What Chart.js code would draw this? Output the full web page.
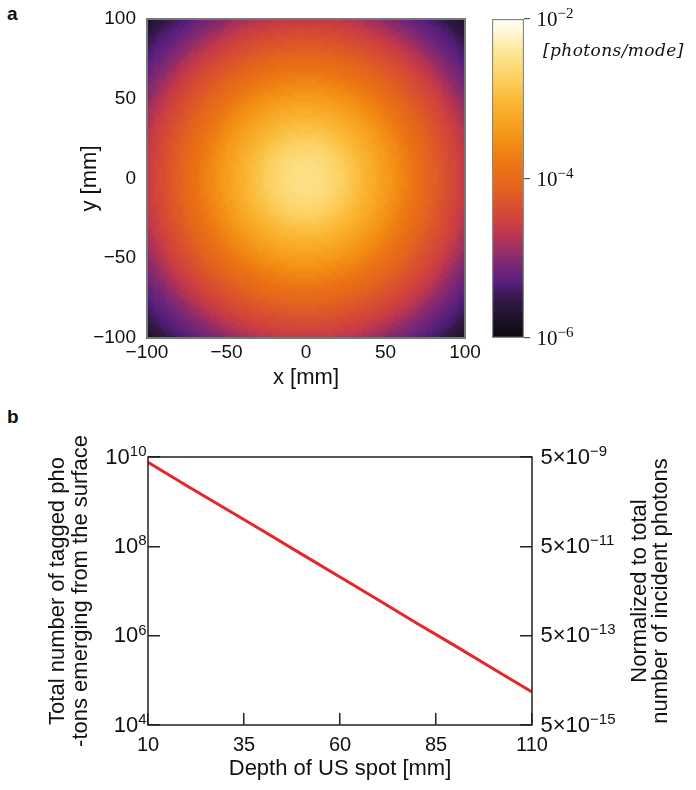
<!DOCTYPE html>
<html>
<head>
<meta charset="utf-8">
<script src="https://cdn.jsdelivr.net/npm/chart.js@4.4.1/dist/chart.umd.min.js"></script>
<style>
  body { margin: 0; background: #fff; width: 696px; height: 790px; position: relative; overflow: hidden;
         font-family: "Liberation Sans", Arial, sans-serif; color: #111; }
  .box { position: absolute; }
  .tag { position: absolute; font-weight: bold; font-size: 19px; }
  #unit { position: absolute; left: 543px; top: 40px; font-family: "DejaVu Serif", serif;
          font-style: italic; font-size: 17px; letter-spacing: 0.4px; white-space: nowrap; }
</style>
</head>
<body>
<div class="tag" style="left:7px;top:3px">a</div>
<div class="tag" style="left:7px;top:406px">b</div>
<div class="box" style="left:0;top:0;width:490px;height:400px"><canvas id="heat"></canvas></div>
<div class="box" style="left:480px;top:0;width:216px;height:400px"><canvas id="cbar"></canvas></div>
<div id="unit">[photons/mode]</div>
<div class="box" style="left:0;top:400px;width:696px;height:390px"><canvas id="line"></canvas></div>
<script>
// ---------- DATA ----------
// panel a: log10(photons/mode) read from the map every 2.5 mm out from the centre
const radiusStepMm = 2.5;
const profileLog10 = [
  -2.52, -2.52, -2.53, -2.54, -2.56, -2.59, -2.62, -2.66, -2.70, -2.74,
  -2.79, -2.84, -2.90, -2.95, -3.01, -3.07, -3.13, -3.18, -3.24, -3.30,
  -3.36, -3.42, -3.49, -3.55, -3.62, -3.69, -3.76, -3.83, -3.90, -3.96,
  -4.03, -4.09, -4.15, -4.21, -4.27, -4.32, -4.38, -4.44, -4.50, -4.56,
  -4.62, -4.70, -4.78, -4.86, -4.95, -5.01, -5.08, -5.14, -5.20, -5.26,
  -5.33, -5.39, -5.45, -5.52, -5.60, -5.67, -5.75, -5.80, -5.85];
const mapTicks = [-100, -50, 0, 50, 100];
const cbarTicks = [1e-6, 1e-4, 1e-2];

// panel b: tagged photons vs depth
const depthMm = [10, 20, 30, 40, 50, 60, 70, 80, 90, 100, 110];
const taggedPhotons = [7.6e9, 2.3e9, 7.1e8, 2.2e8, 6.7e7, 2.05e7, 6.3e6, 1.9e6, 5.9e5, 1.8e5, 5.5e4];
const depthTicks = [10, 35, 60, 85, 110];
const leftTicks = [1e4, 1e6, 1e8, 1e10];
const rightTicks = [5e-15, 5e-13, 5e-11, 5e-9];

// ---------- STYLE ----------
const sans = '"Liberation Sans", Arial, sans-serif';
const serif = '"Liberation Serif", "DejaVu Serif", serif';
Chart.defaults.font.family = sans;
Chart.defaults.color = '#111';

// colormap stops, t = 0 bottom (1e-6) .. 1 top (1e-2)
const cmap = [
  [0.000, 10, 8, 15], [0.119, 50, 25, 70], [0.172, 85, 30, 125], [0.235, 125, 40, 115],
  [0.298, 170, 50, 90], [0.348, 200, 60, 70], [0.401, 215, 75, 50], [0.473, 228, 100, 30],
  [0.536, 235, 115, 20], [0.611, 242, 140, 20], [0.683, 248, 165, 35], [0.746, 250, 185, 55],
  [0.818, 252, 210, 100], [0.893, 253, 230, 150], [0.966, 255, 248, 220], [1.000, 255, 255, 245]
];
function cmapColor(t) {
  t = Math.max(0, Math.min(1, t));
  for (let i = 1; i < cmap.length; i++) {
    if (t <= cmap[i][0]) {
      const a = cmap[i - 1], b = cmap[i];
      const f = (t - a[0]) / (b[0] - a[0]);
      const c = [1, 2, 3].map(k => Math.round(a[k] + (b[k] - a[k]) * f));
      return `rgb(${c[0]},${c[1]},${c[2]})`;
    }
  }
  return 'rgb(255,255,245)';
}

const minus = v => (v < 0 ? '\u2212' + (-v) : String(v));
const noPad = s => { s.paddingTop = 0; s.paddingBottom = 0; s.paddingLeft = 0; s.paddingRight = 0; };

const frame = (color, width) => ({
  id: 'frame',
  afterDraw(chart) {
    const { ctx, chartArea: a } = chart;
    ctx.save();
    ctx.strokeStyle = color;
    ctx.lineWidth = width;
    ctx.strokeRect(a.left, a.top, a.right - a.left, a.bottom - a.top);
    ctx.restore();
  }
});

// "10" with a raised exponent
function drawPower(ctx, x, y, head, exp, o) {
  ctx.save();
  ctx.fillStyle = '#111';
  ctx.font = `${o.size}px ${o.family}`;
  const wHead = ctx.measureText(head).width;
  ctx.font = `${o.expSize}px ${o.family}`;
  const wExp = ctx.measureText(exp).width;
  const x0 = o.align === 'right' ? x - wHead - wExp : x;
  ctx.textAlign = 'left';
  ctx.textBaseline = 'middle';
  ctx.font = `${o.size}px ${o.family}`;
  ctx.fillText(head, x0, y + (o.dy || 0));
  ctx.textBaseline = 'alphabetic';
  ctx.font = `${o.expSize}px ${o.family}`;
  ctx.fillText(exp, x0 + wHead, y + o.expDy);
  ctx.restore();
}
const expStr = n => (n < 0 ? '\u2212' + (-n) : String(n));

// ---------- PANEL A: MAP ----------
const cellMm = 2;
const cells = [];
for (let i = 0; i < 200 / cellMm; i++) {
  for (let j = 0; j < 200 / cellMm; j++) {
    const x = -100 + (i + 0.5) * cellMm, y = -100 + (j + 0.5) * cellMm;
    const k = Math.min(profileLog10.length - 1, Math.round(Math.hypot(x, y) / radiusStepMm));
    cells.push({ x, y, c: cmapColor((profileLog10[k] + 6) / 4) });
  }
}
function cellRadius(chart) {
  const sx = chart.scales.x, sy = chart.scales.y;
  const w = Math.max(Math.abs(sx.getPixelForValue(cellMm) - sx.getPixelForValue(0)),
                     Math.abs(sy.getPixelForValue(cellMm) - sy.getPixelForValue(0)));
  return (w / 2 + 0.4) * Math.SQRT2;
}
const mapAxis = pad => ({
  type: 'linear', min: -100, max: 100, z: 1,
  afterBuildTicks: s => { s.ticks = mapTicks.map(v => ({ value: v })); },
  grid: { drawOnChartArea: false, tickLength: -10, color: '#333', lineWidth: 1.5 },
  border: { display: false },
  ticks: { padding: pad, color: '#111', font: { size: 19 }, callback: minus, maxRotation: 0, autoSkip: false }
});

new Chart(document.getElementById('heat'), {
  type: 'scatter',
  data: {
    datasets: [{
      data: cells,
      pointStyle: 'rect',
      borderWidth: 0,
      backgroundColor: c => (c.raw ? c.raw.c : '#000'),
      pointRadius: c => cellRadius(c.chart)
    }]
  },
  options: {
    responsive: true, maintainAspectRatio: false, animation: false, events: [],
    layout: { padding: { top: 19, right: 25, left: 0, bottom: 0 } },
    plugins: { legend: { display: false }, tooltip: { enabled: false } },
    scales: {
      x: Object.assign(mapAxis(13), {
        afterFit: s => { s.height = 62; noPad(s); },
        title: { display: true, text: 'x [mm]', color: '#111', font: { size: 22, lineHeight: 1.1 }, padding: { top: 0, bottom: 10 } }
      }),
      y: Object.assign(mapAxis(21), {
        afterFit: s => { s.width = 147; noPad(s); },
        title: { display: true, text: 'y [mm]', color: '#111', font: { size: 22, lineHeight: 1.1 }, padding: { top: 78, bottom: 0 } }
      })
    }
  },
  plugins: [frame('#777', 2)]
});

// ---------- PANEL A: COLORBAR ----------
function cbarGradient(chart) {
  const a = chart.chartArea;
  if (!a) return '#888';
  const g = chart.ctx.createLinearGradient(0, a.bottom, 0, a.top);
  cmap.forEach(s => g.addColorStop(s[0], `rgb(${s[1]},${s[2]},${s[3]})`));
  return g;
}
new Chart(document.getElementById('cbar'), {
  type: 'bar',
  data: {
    labels: [''],
    datasets: [{
      data: [[cbarTicks[0], cbarTicks[cbarTicks.length - 1]]],
      backgroundColor: c => cbarGradient(c.chart),
      borderColor: '#888', borderWidth: 1.5, borderSkipped: false,
      barPercentage: 1, categoryPercentage: 1
    }]
  },
  options: {
    responsive: true, maintainAspectRatio: false, animation: false, events: [],
    layout: { padding: { top: 19, left: 12, right: 0, bottom: 62 } },
    plugins: { legend: { display: false }, tooltip: { enabled: false } },
    scales: {
      x: { display: false },
      y: {
        type: 'logarithmic', position: 'right', min: cbarTicks[0], max: cbarTicks[cbarTicks.length - 1],
        afterBuildTicks: s => { s.ticks = cbarTicks.map(v => ({ value: v })); },
        afterFit: s => { s.width = 172; noPad(s); },
        grid: { drawOnChartArea: false, tickLength: 6, color: '#555', lineWidth: 1.2 },
        border: { display: false },
        ticks: { display: false }
      }
    }
  },
  plugins: [{
    id: 'cbarLabels',
    afterDraw(chart) {
      const s = chart.scales.y;
      cbarTicks.forEach(v => {
        drawPower(chart.ctx, chart.chartArea.right + 12.5, s.getPixelForValue(v), '10',
          expStr(Math.round(Math.log10(v))), { size: 21, expSize: 15, family: serif, dy: 1.5, expDy: -1 });
      });
    }
  }]
});

// ---------- PANEL B: LINE ----------
const inTick = { drawOnChartArea: false, tickLength: -12, color: '#222', lineWidth: 1.5 };
new Chart(document.getElementById('line'), {
  type: 'line',
  data: {
    datasets: [{
      data: depthMm.map((d, i) => ({ x: d, y: taggedPhotons[i] })),
      borderColor: '#e8262a', borderWidth: 3, pointRadius: 0, tension: 0, fill: false, yAxisID: 'y'
    }]
  },
  options: {
    responsive: true, maintainAspectRatio: false, animation: false, events: [],
    layout: { padding: { top: 57, right: 0, left: 0, bottom: 0 } },
    plugins: { legend: { display: false }, tooltip: { enabled: false } },
    scales: {
      x: {
        type: 'linear', min: depthTicks[0], max: depthTicks[depthTicks.length - 1],
        afterBuildTicks: s => { s.ticks = depthTicks.map(v => ({ value: v })); },
        afterFit: s => { s.height = 65; },
        grid: inTick, border: { display: false },
        ticks: { padding: 20, color: '#111', font: { size: 20 }, maxRotation: 0, autoSkip: false },
        title: { display: true, text: 'Depth of US spot [mm]', color: '#111', font: { size: 22, lineHeight: 1.1 }, padding: { top: 0, bottom: 9 } }
      },
      y: {
        type: 'logarithmic', position: 'left', min: leftTicks[0], max: leftTicks[leftTicks.length - 1],
        afterBuildTicks: s => { s.ticks = leftTicks.map(v => ({ value: v })); },
        afterFit: s => { s.width = 148; noPad(s); },
        grid: inTick, border: { display: false },
        ticks: { display: false },
        title: {
          display: true, text: ['Total number of tagged pho', '-tons emerging from the surface'],
          color: '#111', font: { size: 22, lineHeight: 1.06 }, padding: { top: 46, bottom: 0 }
        }
      },
      y2: {
        type: 'logarithmic', position: 'right', min: rightTicks[0], max: rightTicks[rightTicks.length - 1],
        afterBuildTicks: s => { s.ticks = rightTicks.map(v => ({ value: v })); },
        afterFit: s => { s.width = 164; noPad(s); },
        grid: inTick, border: { display: false },
        ticks: { display: false }
      }
    }
  },
  plugins: [frame('#222', 1.5), {
    id: 'powerLabels',
    afterDraw(chart) {
      const ctx = chart.ctx, a = chart.chartArea;
      const sy = chart.scales.y, sy2 = chart.scales.y2;
      leftTicks.forEach(v => {
        drawPower(ctx, a.left - 1.5, sy.getPixelForValue(v), '10', expStr(Math.round(Math.log10(v))),
          { size: 22, expSize: 15, family: sans, align: 'right', dy: 0.5, expDy: -1 });
      });
      rightTicks.forEach(v => {
        drawPower(ctx, a.right + 8.5, sy2.getPixelForValue(v), '5\u00d710', expStr(Math.round(Math.log10(v / 5))),
          { size: 22, expSize: 15, family: sans, dy: 0.5, expDy: -1.5 });
      });
      // right-hand axis title, reading upwards like the left one
      ctx.save();
      ctx.fillStyle = '#111';
      ctx.font = `22px ${sans}`;
      ctx.textAlign = 'center';
      ctx.textBaseline = 'middle';
      const cy = (a.top + a.bottom) / 2;
      [['Normalized to total', 640], ['number of incident photons', 661]].forEach(([t, x]) => {
        ctx.save();
        ctx.translate(x, cy);
        ctx.rotate(-Math.PI / 2);
        ctx.fillText(t, 0, 0);
        ctx.restore();
      });
      ctx.restore();
    }
  }]
});
</script>
</body>
</html>
